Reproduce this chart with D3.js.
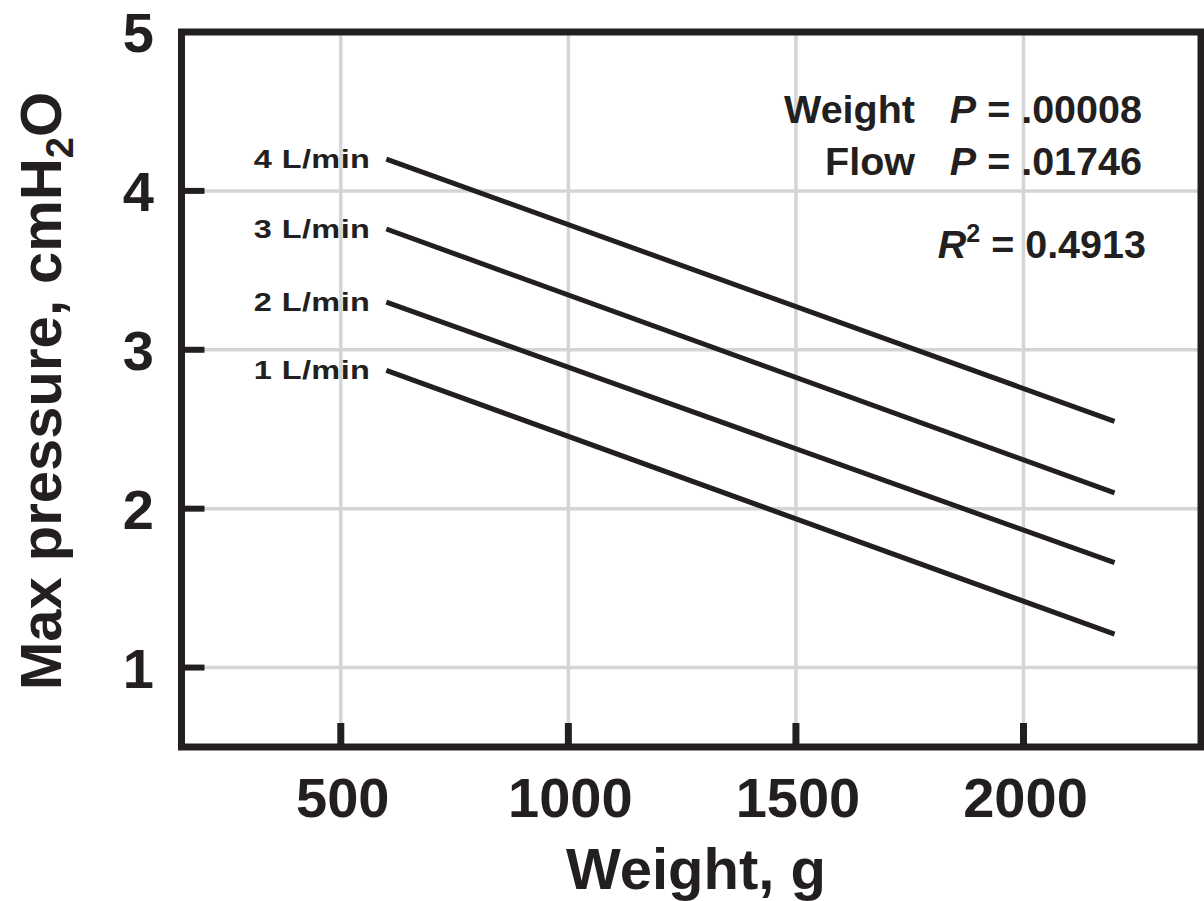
<!DOCTYPE html>
<html>
<head>
<meta charset="utf-8">
<script src="https://cdn.jsdelivr.net/npm/d3@7"></script>
<style>
  html, body { margin: 0; padding: 0; background: #fff; }
  svg { display: block; }
  text { font-family: "Liberation Sans", Arial, Helvetica, sans-serif; font-weight: bold; fill: #231f20; }
</style>
</head>
<body>
<svg id="chart" width="1204" height="901"></svg>
<script>
// Fitted maximum pressure vs. body weight, one regression line per flow rate
const flowLabels = ["1 L/min", "2 L/min", "3 L/min", "4 L/min"];
const weightSpan = [600, 2200];            // g, start and end of each fitted line
const pressureAtStart = [2.87, 3.30, 3.76, 4.20]; // cmH2O at 600 g
const pressureAtEnd = [1.21, 1.66, 2.10, 2.55];   // cmH2O at 2200 g
const xTicks = [500, 1000, 1500, 2000];
const yTicks = [1, 2, 3, 4, 5];

const ink = "#231f20";
const gridColor = "#d3d5d7";

const svg = d3.select("#chart");

const x = d3.scaleLinear().domain([150, 2390]).range([181.5, 1201]);
const y = d3.scaleLinear().domain([0.5, 5]).range([747, 32]);

// gridlines
svg.append("g").selectAll("line").data(xTicks).join("line")
  .attr("x1", d => x(d)).attr("x2", d => x(d))
  .attr("y1", y(5)).attr("y2", y(0.5))
  .attr("stroke", gridColor).attr("stroke-width", 3.5);
svg.append("g").selectAll("line").data(yTicks.filter(d => d < 5)).join("line")
  .attr("x1", x(150)).attr("x2", x(2390))
  .attr("y1", d => y(d)).attr("y2", d => y(d))
  .attr("stroke", gridColor).attr("stroke-width", 3.5);

// inward tick marks
svg.append("g").selectAll("line").data(xTicks).join("line")
  .attr("x1", d => x(d)).attr("x2", d => x(d))
  .attr("y1", y(0.5)).attr("y2", y(0.5) - 24)
  .attr("stroke", ink).attr("stroke-width", 7);
svg.append("g").selectAll("line").data(yTicks.filter(d => d < 5)).join("line")
  .attr("x1", x(150)).attr("x2", x(150) + 23)
  .attr("y1", d => y(d)).attr("y2", d => y(d))
  .attr("stroke", ink).attr("stroke-width", 6);

// frame
svg.append("rect")
  .attr("x", x(150)).attr("y", y(5))
  .attr("width", x(2390) - x(150)).attr("height", y(0.5) - y(5))
  .attr("fill", "none").attr("stroke", ink).attr("stroke-width", 7);

// tick labels
svg.append("g").selectAll("text").data(xTicks).join("text")
  .attr("x", d => x(d) + 2).attr("y", 817)
  .attr("text-anchor", "middle").attr("font-size", 56)
  .text(d => d);
svg.append("g").selectAll("text").data(yTicks).join("text")
  .attr("x", 154).attr("y", d => y(d)).attr("dy", "0.36em")
  .attr("text-anchor", "end").attr("font-size", 56)
  .text(d => d);

// axis titles
svg.append("text")
  .attr("x", 696).attr("y", 889)
  .attr("text-anchor", "middle").attr("font-size", 58)
  .text("Weight, g");

const yTitle = svg.append("text")
  .attr("transform", `translate(61,391) rotate(-90)`)
  .attr("text-anchor", "middle").attr("font-size", 58);
yTitle.append("tspan").text("Max pressure, cmH");
yTitle.append("tspan").attr("font-size", 38).attr("dy", 12).text("2");
yTitle.append("tspan").attr("dy", -12).text("O");

// regression lines
const rows = flowLabels.map((label, i) => ({
  label,
  pts: [[weightSpan[0], pressureAtStart[i]], [weightSpan[1], pressureAtEnd[i]]]
}));
const line = d3.line().x(d => x(d[0])).y(d => y(d[1]));

svg.append("g").selectAll("path").data(rows).join("path")
  .attr("d", d => line(d.pts))
  .attr("fill", "none").attr("stroke", ink).attr("stroke-width", 5);

// flow labels, set in a wide face
svg.append("g").selectAll("text").data(rows).join("text")
  .attr("transform", d => `translate(${x(d.pts[0][0]) - 16},${y(d.pts[0][1])}) scale(1.3,1)`)
  .attr("dy", "0.36em").attr("text-anchor", "end")
  .attr("font-size", 25).attr("letter-spacing", 0.3)
  .text(d => d.label);

// model statistics
const stats = [
  { name: "Weight", value: ".00008", yPos: 123 },
  { name: "Flow", value: ".01746", yPos: 175 }
];
svg.append("g").selectAll("text").data(stats).join("text")
  .attr("x", 915).attr("y", d => d.yPos)
  .attr("text-anchor", "end").attr("font-size", 39.5)
  .text(d => d.name);
const pText = svg.append("g").selectAll("text").data(stats).join("text")
  .attr("x", 1142).attr("y", d => d.yPos)
  .attr("text-anchor", "end").attr("font-size", 39.5);
pText.append("tspan").attr("font-style", "italic").text("P");
pText.append("tspan").text(d => " = " + d.value);

const r2 = svg.append("text")
  .attr("x", 1146).attr("y", 258)
  .attr("text-anchor", "end").attr("font-size", 39.5);
r2.append("tspan").attr("font-style", "italic").text("R");
r2.append("tspan").attr("font-size", 25).attr("dy", -16).text("2");
r2.append("tspan").attr("dy", 16).text(" = 0.4913");
</script>
</body>
</html>
